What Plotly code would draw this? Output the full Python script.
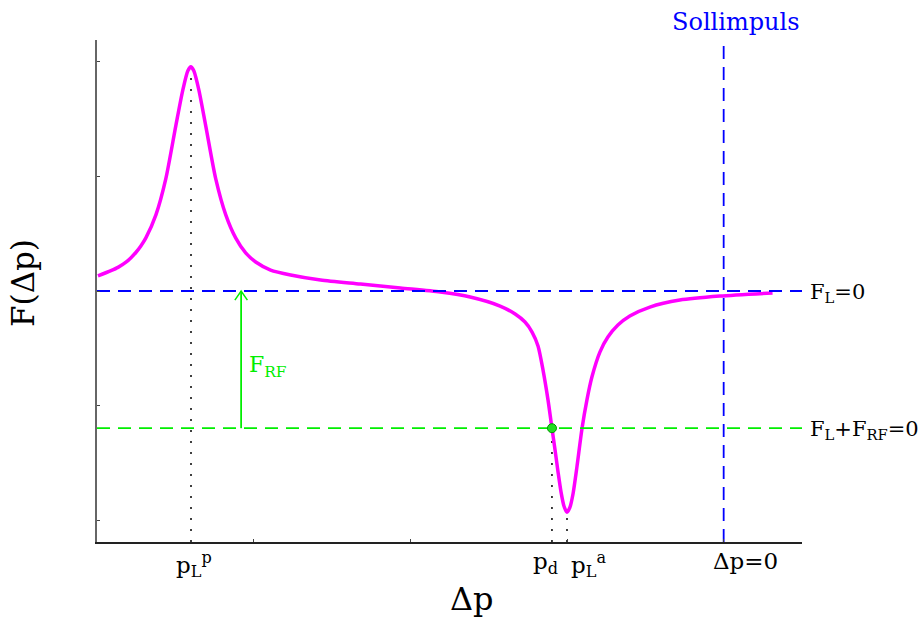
import plotly.graph_objects as go

# Force curve F(Δp): Δp in tick units, F in tick units (F_L = 0 at the blue line)
dp = [-3.994, -3.911, -3.866, -3.815, -3.783, -3.752, -3.720, -3.688, -3.624, -3.561,
      -3.497, -3.452, -3.420, -3.401, -3.382, -3.350, -3.306, -3.242, -3.178, -3.115,
      -3.051, -2.987, -2.892, -2.764, -2.573, -2.318, -2.064, -1.809, -1.618, -1.427,
      -1.331, -1.268, -1.223, -1.185, -1.153, -1.121, -1.096, -1.076, -1.057, -1.038,
      -1.019, -1.000, -0.981, -0.962, -0.936, -0.904, -0.873, -0.841, -0.790, -0.739,
      -0.675, -0.599, -0.471, -0.280, -0.025, 0.312]
force = [0.131, 0.177, 0.206, 0.252, 0.291, 0.336, 0.393, 0.463, 0.664, 0.978,
         1.441, 1.755, 1.921, 1.956, 1.921, 1.755, 1.441, 0.978, 0.664, 0.463,
         0.332, 0.253, 0.183, 0.140, 0.096, 0.061, 0.026, -0.009, -0.052, -0.131,
         -0.201, -0.271, -0.358, -0.480, -0.690, -0.952, -1.197, -1.389, -1.581, -1.755,
         -1.878, -1.930, -1.886, -1.773, -1.528, -1.197, -0.952, -0.751, -0.533, -0.402,
         -0.297, -0.218, -0.140, -0.079, -0.044, -0.017]

# Characteristic positions on the Δp axis
p_Lp = -3.40        # passive resonance peak
p_d = -1.096        # operating point
p_La = -1.00        # active resonance dip
dp_zero = 0.0       # target momentum (Sollimpuls)

# Levels
F_L0 = 0.0          # F_L = 0
F_RF = -1.197       # F_L + F_RF = 0
peak_val = 1.956
dip_val = -1.930
arrow_x = -3.08

x_range = [-4.0, 0.5]
y_range = [-2.19, 2.19]

x_labels = ["p<sub>L</sub><sup>p</sup>", "p<sub>d</sub>", "p<sub>L</sub><sup>a</sup>", "Δp=0"]
x_label_pos = [p_Lp, p_d, p_La, dp_zero]
x_label_shift = [3, -6, 21, 22]

SERIF = "DejaVu Serif"
BLUE = "#0000ff"
GREEN = "#00ee00"
MAGENTA = "#ff00ff"
DASH = "13px,8px"
DOT = "2px,9px"

fig = go.Figure()

# dotted drop lines
for xv, yv in [(p_Lp, peak_val), (p_d, F_RF), (p_La, dip_val)]:
    fig.add_trace(go.Scatter(x=[xv, xv], y=[y_range[0], yv], mode="lines",
                             line=dict(color="black", width=1.5, dash=DOT),
                             hoverinfo="skip"))

# the force curve
fig.add_trace(go.Scatter(x=dp, y=force, mode="lines",
                         line=dict(color=MAGENTA, width=3.5, shape="spline", smoothing=0.7),
                         hoverinfo="skip"))

# horizontal reference levels
fig.add_trace(go.Scatter(x=x_range, y=[F_L0, F_L0], mode="lines",
                         line=dict(color=BLUE, width=1.8, dash=DASH), hoverinfo="skip"))
fig.add_trace(go.Scatter(x=x_range, y=[F_RF, F_RF], mode="lines",
                         line=dict(color=GREEN, width=1.8, dash=DASH), hoverinfo="skip"))

# Sollimpuls line
fig.add_trace(go.Scatter(x=[dp_zero, dp_zero], y=y_range, mode="lines",
                         line=dict(color=BLUE, width=1.8, dash=DASH), hoverinfo="skip"))

# F_RF arrow: shaft and open head
head_dx, head_dy = 0.04, 0.08
fig.add_trace(go.Scatter(x=[arrow_x, arrow_x], y=[F_RF, F_L0], mode="lines",
                         line=dict(color=GREEN, width=1.8), hoverinfo="skip"))
fig.add_trace(go.Scatter(x=[arrow_x - head_dx, arrow_x, arrow_x + head_dx],
                         y=[F_L0 - head_dy, F_L0, F_L0 - head_dy], mode="lines",
                         line=dict(color=GREEN, width=1.5), hoverinfo="skip"))

# operating point
fig.add_trace(go.Scatter(x=[p_d], y=[F_RF], mode="markers",
                         marker=dict(size=9, color="#22dd22", line=dict(color="#009900", width=1)),
                         hoverinfo="skip"))

annotations = []
for txt, xv, sh in zip(x_labels, x_label_pos, x_label_shift):
    annotations.append(dict(x=xv, xref="x", y=0, yref="paper", text=txt, showarrow=False,
                            xanchor="center", yanchor="top", xshift=sh, yshift=-4,
                            font=dict(family=SERIF, size=23, color="black")))

annotations += [
    dict(x=1, xref="paper", y=F_L0, yref="y", text="F<sub>L</sub>=0", showarrow=False,
         xanchor="left", yanchor="middle", xshift=6, yshift=-2,
         font=dict(family=SERIF, size=21, color="black")),
    dict(x=1, xref="paper", y=F_RF, yref="y", text="F<sub>L</sub>+F<sub>RF</sub>=0", showarrow=False,
         xanchor="left", yanchor="middle", xshift=6, yshift=-2,
         font=dict(family=SERIF, size=21, color="black")),
    dict(x=dp_zero, xref="x", y=1, yref="paper", text="Sollimpuls", showarrow=False,
         xanchor="center", yanchor="bottom", xshift=12, yshift=2,
         font=dict(family=SERIF, size=24, color=BLUE)),
    dict(x=arrow_x, xref="x", y=-0.66, yref="y", text="F<sub>RF</sub>", showarrow=False,
         xanchor="left", yanchor="middle", xshift=6,
         font=dict(family=SERIF, size=22, color=GREEN)),
    dict(x=0, xref="paper", y=0.516, yref="paper", text="F(Δp)", showarrow=False,
         textangle=-90, xanchor="center", yanchor="middle", xshift=-74,
         font=dict(family=SERIF, size=31, color="black")),
    dict(x=0.532, xref="paper", y=0, yref="paper", text="Δp", showarrow=False,
         xanchor="center", yanchor="middle", yshift=-57,
         font=dict(family=SERIF, size=32, color="black")),
]

fig.update_layout(
    width=921, height=619,
    margin=dict(l=97, r=119, t=40, b=77),
    paper_bgcolor="white", plot_bgcolor="white",
    showlegend=False,
    annotations=annotations,
    xaxis=dict(range=x_range, showgrid=False, zeroline=False, showticklabels=False,
               ticks="inside", ticklen=3, tickcolor="#444", tick0=0, dtick=1,
               showline=True, linecolor="#222", linewidth=1.5),
    yaxis=dict(range=y_range, showgrid=False, zeroline=False, showticklabels=False,
               ticks="inside", ticklen=3, tickcolor="#444", tick0=0, dtick=1,
               showline=True, linecolor="#666", linewidth=2),
)

fig.write_html("out.html")
